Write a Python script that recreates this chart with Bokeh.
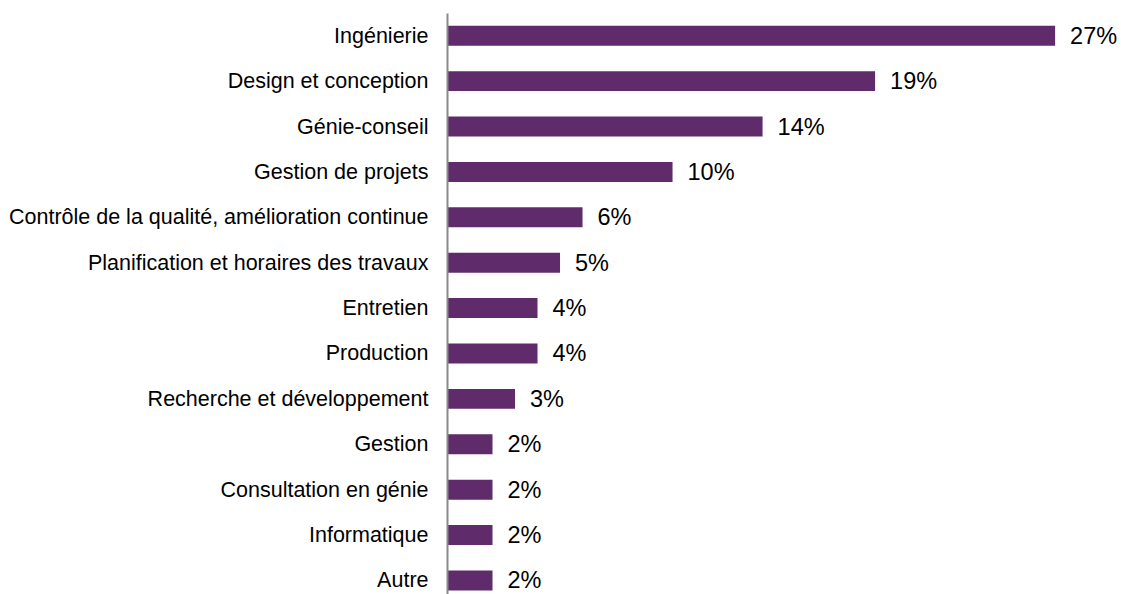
from bokeh.plotting import figure
from bokeh.models import Range1d, FixedTicker, ColumnDataSource
from bokeh.embed import file_html
from bokeh.resources import INLINE

categories = ["Ingénierie", "Design et conception", "Génie-conseil", "Gestion de projets",
              "Contrôle de la qualité, amélioration continue", "Planification et horaires des travaux",
              "Entretien", "Production", "Recherche et développement", "Gestion",
              "Consultation en génie", "Informatique", "Autre"]
values = [27, 19, 14, 10, 6, 5, 4, 4, 3, 2, 2, 2, 2]
labels = [f"{v}%" for v in values]

n = len(categories)
ypos = [n - 1 - i for i in range(n)]

src = ColumnDataSource(dict(y=ypos, v=values, lab=labels, cat=categories))

p = figure(width=1121, height=594, output_backend="svg", toolbar_location=None,
           x_range=Range1d(0, 29.95), y_range=Range1d(-0.31, 12.49),
           min_border_left=447, min_border_right=0, min_border_top=13, min_border_bottom=0)
p.outline_line_color = None
p.grid.visible = False
p.xaxis.visible = False

p.hbar(y="y", right="v", left=0, height=0.44, source=src, color="#5F2B6B", line_color=None)
p.text(x="v", y="y", text="lab", source=src, x_offset=15, text_baseline="middle",
       text_font_size="23.5px", text_color="black", text_font={"value": "Liberation Sans"})

ax = p.yaxis[0]
ax.ticker = FixedTicker(ticks=ypos)
ax.major_label_overrides = {y: c for y, c in zip(ypos, categories)}
ax.major_tick_line_color = None
ax.minor_tick_line_color = None
ax.axis_line_color = "#898989"
ax.axis_line_width = 2
ax.major_label_standoff = 13
ax.major_label_text_font = "Liberation Sans"
ax.major_label_text_font_size = "21.5px"
ax.major_label_text_color = "black"

open("out.html", "w").write(file_html(p, INLINE))
